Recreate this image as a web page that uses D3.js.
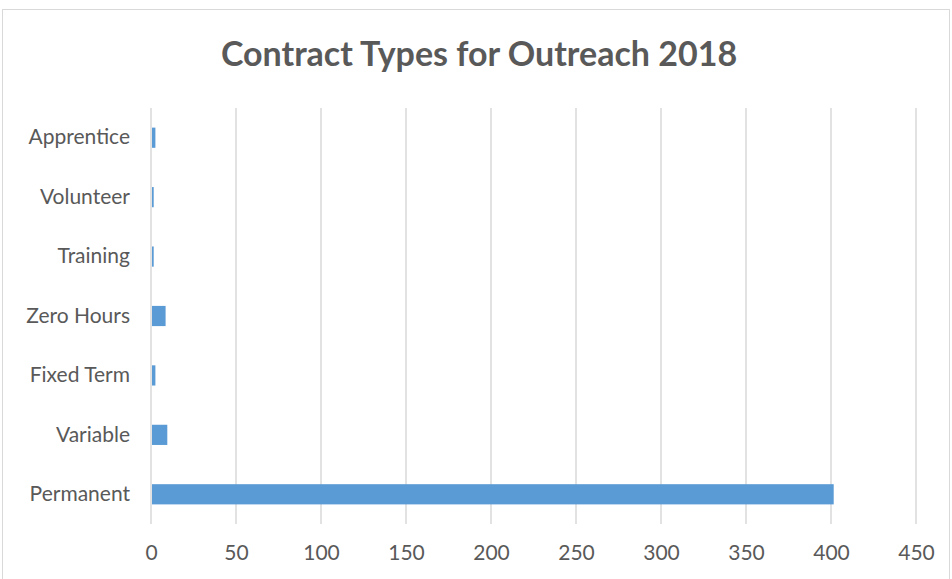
<!DOCTYPE html>
<html>
<head>
<meta charset="utf-8">
<script src="https://cdn.jsdelivr.net/npm/d3@7"></script>
<style>
  body { margin: 0; background: #fff; }
  text { font-family: Lato, "Open Sans", sans-serif; fill: #595959; }
</style>
</head>
<body>
<svg id="chart" width="952" height="579"></svg>
<script>
// Chart data
var categories = ["Permanent", "Variable", "Fixed Term", "Zero Hours", "Training", "Volunteer", "Apprentice"];
var counts = [401, 9, 2, 8, 1, 1, 2];
var xTicks = [0, 50, 100, 150, 200, 250, 300, 350, 400, 450];

var margin = { top: 108, right: 36, bottom: 55, left: 151 },
    width = 952 - margin.left - margin.right,
    height = 579 - margin.top - margin.bottom;

var svg = d3.select("#chart");

// Outer chart border
svg.append("rect")
    .attr("x", 2.5)
    .attr("y", 9.5)
    .attr("width", 947)
    .attr("height", 600)
    .attr("fill", "none")
    .attr("stroke", "#d9d9d9");

var g = svg.append("g")
    .attr("transform", "translate(" + margin.left + "," + margin.top + ")");

var xScale = d3.scaleLinear().domain([0, 450]).range([0, width]);
var yScale = d3.scaleBand()
    .domain(categories.slice().reverse())
    .range([0, height])
    .paddingInner(0.66)
    .paddingOuter(0.33);

// Title
svg.append("text")
    .attr("x", 479)
    .attr("y", 66)
    .attr("text-anchor", "middle")
    .style("font-size", "34px")
    .style("font-weight", "bold")
    .text("Contract Types for Outreach 2018");

// Gridlines
g.selectAll(".grid")
    .data(xTicks)
    .enter()
    .append("line")
    .attr("class", "grid")
    .attr("x1", function (d) { return xScale(d); })
    .attr("x2", function (d) { return xScale(d); })
    .attr("y1", 0)
    .attr("y2", height)
    .attr("stroke", "#d9d9d9")
    .attr("stroke-width", 1.5);

// Bars
var data = categories.map(function (c, i) { return { category: c, value: counts[i] }; });
g.selectAll(".bar")
    .data(data)
    .enter()
    .append("rect")
    .attr("class", "bar")
    .attr("x", xScale(0) + 1)
    .attr("y", function (d) { return yScale(d.category); })
    .attr("width", function (d) { return Math.max(0, xScale(d.value) - xScale(0)); })
    .attr("height", yScale.bandwidth())
    .attr("fill", "#5b9bd5");

// X axis
var xAxis = d3.axisBottom(xScale).tickValues(xTicks).tickSize(0).tickPadding(21);
g.append("g")
    .attr("class", "x axis")
    .attr("transform", "translate(0," + height + ")")
    .call(xAxis)
    .call(function (s) { s.select(".domain").remove(); })
    .selectAll("text")
    .style("font-size", "21px")
    .style("font-family", "Lato, 'Open Sans', sans-serif")
    .attr("fill", "#595959");

// Y axis
var yAxis = d3.axisLeft(yScale).tickSize(0).tickPadding(21);
g.append("g")
    .attr("class", "y axis")
    .call(yAxis)
    .call(function (s) { s.select(".domain").remove(); })
    .selectAll("text")
    .style("font-size", "21px")
    .style("font-family", "Lato, 'Open Sans', sans-serif")
    .attr("fill", "#595959");
</script>
</body>
</html>
